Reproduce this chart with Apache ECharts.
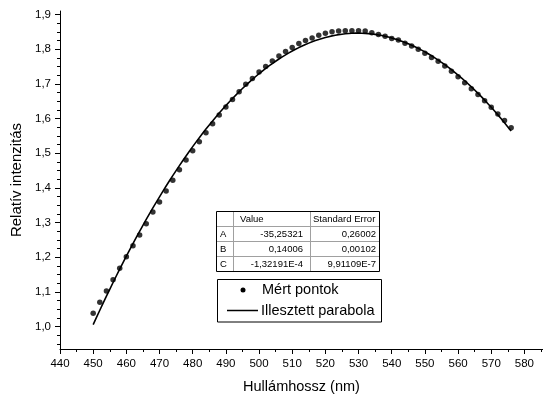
<!DOCTYPE html>
<html>
<head>
<meta charset="utf-8">
<script src="https://cdn.jsdelivr.net/npm/echarts@6/dist/echarts.min.js"></script>
<style>
  html, body { margin: 0; padding: 0; background: #fff; }
  #chart { width: 543px; height: 401px; }
</style>
</head>
<body>
<div id="chart"></div>
<script>
// Measured relative intensity versus wavelength
const wavelengths = [
  450, 452, 454, 456, 458, 460, 462, 464, 466, 468,
  470, 472, 474, 476, 478, 480, 482, 484, 486, 488,
  490, 492, 494, 496, 498, 500, 502, 504, 506, 508,
  510, 512, 514, 516, 518, 520, 522, 524, 526, 528,
  530, 532, 534, 536, 538, 540, 542, 544, 546, 548,
  550, 552, 554, 556, 558, 560, 562, 564, 566, 568,
  570, 572, 574, 576
];
const intensities = [
  1.038, 1.070, 1.102, 1.135, 1.168, 1.201, 1.233, 1.264, 1.296, 1.330,
  1.359, 1.391, 1.422, 1.452, 1.480, 1.507, 1.533, 1.559, 1.585, 1.610,
  1.633, 1.655, 1.677, 1.699, 1.715, 1.734, 1.750, 1.766, 1.780, 1.793,
  1.805, 1.816, 1.825, 1.832, 1.840, 1.846, 1.850, 1.852, 1.853, 1.853,
  1.853, 1.852, 1.847, 1.842, 1.837, 1.831, 1.826, 1.817, 1.809, 1.800,
  1.788, 1.776, 1.765, 1.751, 1.736, 1.720, 1.703, 1.686, 1.669, 1.651,
  1.632, 1.613, 1.594, 1.573
];

// Parabola fit y = A + B*x + C*x^2 (values and standard errors)
const paramNames = ['A', 'B', 'C'];
const paramValues = [-35.25321, 0.14006, -1.32191e-4];
const paramErrors = [0.26002, 0.00102, 9.91109e-7];
const fitRange = [450, 576];

// Axis ticks
const xMajorTicks = [440, 450, 460, 470, 480, 490, 500, 510, 520, 530, 540, 550, 560, 570, 580];
const xMinorTicks = [445, 455, 465, 475, 485, 495, 505, 515, 525, 535, 545, 555, 565, 575, 585];
const yMajorTicks = [1.0, 1.1, 1.2, 1.3, 1.4, 1.5, 1.6, 1.7, 1.8, 1.9];
const yMinorTicks = [
  0.95, 0.975, 1.025, 1.05, 1.075, 1.125, 1.15, 1.175, 1.225, 1.25, 1.275,
  1.325, 1.35, 1.375, 1.425, 1.45, 1.475, 1.525, 1.55, 1.575, 1.625, 1.65, 1.675,
  1.725, 1.75, 1.775, 1.825, 1.85, 1.875
];

const legendNames = ['Mért pontok', 'Illesztett parabola'];
const tableHeader = ['', 'Value', 'Standard Error'];

const FONT = "'Liberation Sans', Arial, sans-serif";

function fmtNum(v) {
  const s = Math.abs(v) < 1e-3 ? v.toExponential(5).replace('e', 'E') : v.toFixed(5);
  return s.replace('.', ',');
}

// Fitted curve sampled over the measured range
const fitCurve = [];
for (let x = fitRange[0]; x <= fitRange[1]; x += 1) {
  fitCurve.push([x, paramValues[0] + paramValues[1] * x + paramValues[2] * x * x]);
}
const points = wavelengths.map((w, i) => [w, intensities[i]]);

// Fit parameter table
const tbl = { top: 211, cols: [216, 233, 310, 379], rowH: 15 };
const tableEls = [];
const nRows = paramNames.length + 1;
const tblBottom = tbl.top + nRows * tbl.rowH;
for (let r = 1; r < nRows; r++) {
  tableEls.push({ type: 'line', shape: { x1: tbl.cols[0], y1: tbl.top + r * tbl.rowH + 0.5, x2: tbl.cols[3], y2: tbl.top + r * tbl.rowH + 0.5 },
    style: { stroke: '#a0a0a0', lineWidth: 1 } });
}
for (let c = 1; c < 3; c++) {
  tableEls.push({ type: 'line', shape: { x1: tbl.cols[c] + 0.5, y1: tbl.top, x2: tbl.cols[c] + 0.5, y2: tblBottom },
    style: { stroke: '#a0a0a0', lineWidth: 1 } });
}
tableEls.push({ type: 'rect', shape: { x: tbl.cols[0] + 0.5, y: tbl.top + 0.5, width: tbl.cols[3] - tbl.cols[0], height: tblBottom - tbl.top },
  style: { fill: 'none', stroke: '#000', lineWidth: 1 } });
const cellFont = '9.5px ' + FONT;
tableEls.push({ type: 'text', x: 240, y: tbl.top + tbl.rowH / 2 + 0.5, style: { text: tableHeader[1], font: cellFont, fill: '#000', verticalAlign: 'middle' } });
tableEls.push({ type: 'text', x: 313, y: tbl.top + tbl.rowH / 2 + 0.5, style: { text: tableHeader[2], font: cellFont, fill: '#000', verticalAlign: 'middle' } });
paramNames.forEach((n, i) => {
  const cy = tbl.top + (i + 1.5) * tbl.rowH + 0.5;
  tableEls.push({ type: 'text', x: 220, y: cy, style: { text: n, font: cellFont, fill: '#000', verticalAlign: 'middle' } });
  tableEls.push({ type: 'text', x: 303, y: cy, style: { text: fmtNum(paramValues[i]), font: cellFont, fill: '#000', align: 'right', verticalAlign: 'middle' } });
  tableEls.push({ type: 'text', x: 376, y: cy, style: { text: fmtNum(paramErrors[i]), font: cellFont, fill: '#000', align: 'right', verticalAlign: 'middle' } });
});

// Legend box
const legFont = '14.5px ' + FONT;
const legendEls = [
  { type: 'rect', shape: { x: 217.5, y: 279.5, width: 164, height: 42.5 }, style: { fill: '#fff', stroke: '#000', lineWidth: 1 } },
  { type: 'circle', shape: { cx: 243, cy: 290, r: 2.5 }, style: { fill: '#000' } },
  { type: 'text', x: 262, y: 290, style: { text: legendNames[0], font: legFont, fill: '#000', verticalAlign: 'middle' } },
  { type: 'line', shape: { x1: 227, y1: 310.5, x2: 258, y2: 310.5 }, style: { stroke: '#000', lineWidth: 1.5 } },
  { type: 'text', x: 261, y: 311, style: { text: legendNames[1], font: legFont, fill: '#000', verticalAlign: 'middle' } }
];

const axisTxt = { color: '#000', fontFamily: FONT, fontSize: 11.5 };
const blackLine = { lineStyle: { color: '#000', width: 1 } };

const chart = echarts.init(document.getElementById('chart'), null, { renderer: 'canvas' });
chart.setOption({
  animation: false,
  backgroundColor: '#fff',
  grid: { left: 60, right: 0, top: 11, bottom: 52 },
  xAxis: [
    {
      type: 'value', min: 440, max: 585.6, position: 'bottom',
      axisLine: { show: true, onZero: false, ...blackLine },
      axisTick: { show: true, length: 5, customValues: xMajorTicks, ...blackLine },
      axisLabel: { customValues: xMajorTicks, margin: 9, ...axisTxt, formatter: v => String(v) },
      splitLine: { show: false },
      name: 'Hullámhossz (nm)', nameLocation: 'middle', nameGap: 30,
      nameTextStyle: { color: '#000', fontFamily: FONT, fontSize: 14.5 }
    },
    {
      type: 'value', min: 440, max: 585.6, position: 'bottom',
      axisLine: { show: false },
      axisTick: { show: true, length: 3, customValues: xMinorTicks, ...blackLine },
      axisLabel: { show: false },
      splitLine: { show: false }
    }
  ],
  yAxis: [
    {
      type: 'value', min: 0.935, max: 1.91, position: 'left',
      axisLine: { show: true, onZero: false, ...blackLine },
      axisTick: { show: true, length: 5, customValues: yMajorTicks, ...blackLine },
      axisLabel: { customValues: yMajorTicks, margin: 9, ...axisTxt, formatter: v => v.toFixed(1).replace('.', ',') },
      splitLine: { show: false },
      name: 'Relatív intenzitás', nameLocation: 'middle', nameGap: 31,
      nameTextStyle: { color: '#000', fontFamily: FONT, fontSize: 15 }
    },
    {
      type: 'value', min: 0.935, max: 1.91, position: 'left',
      axisLine: { show: false },
      axisTick: { show: true, length: 3, customValues: yMinorTicks, ...blackLine },
      axisLabel: { show: false },
      splitLine: { show: false }
    }
  ],
  series: [
    {
      name: legendNames[1], type: 'line', data: fitCurve, showSymbol: false, symbol: 'none',
      lineStyle: { color: '#000', width: 1.6 }, z: 2, silent: true
    },
    {
      name: legendNames[0], type: 'scatter', data: points, symbol: 'circle', symbolSize: 5.5,
      itemStyle: { color: '#000' }, z: 3, silent: true
    }
  ],
  graphic: [...tableEls, ...legendEls]
});
</script>
</body>
</html>
